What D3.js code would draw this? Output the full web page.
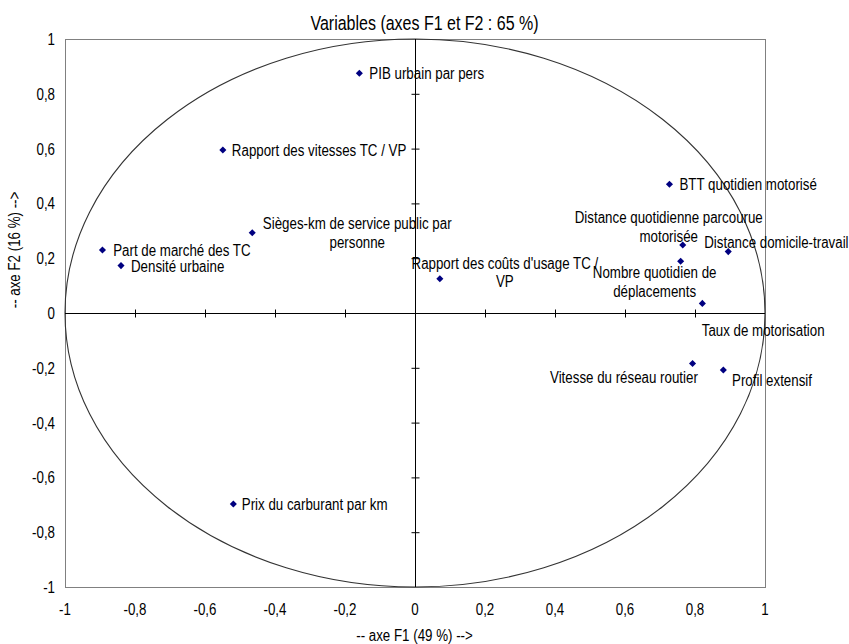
<!DOCTYPE html>
<html><head><meta charset="utf-8">
<script src="https://cdn.jsdelivr.net/npm/d3@7"></script>
<style>
body{margin:0;background:#fff}
text{font-family:"Liberation Sans",Arial,sans-serif;fill:#000}
</style>
</head><body>
<svg id="c" width="849" height="644"></svg>
<script>
// ---------- data ----------
const variableNames = [
  "PIB urbain par pers",
  "Rapport des vitesses TC / VP",
  "BTT quotidien motorisé",
  "Sièges-km de service public par\npersonne",
  "Part de marché des TC",
  "Densité urbaine",
  "Distance quotidienne parcourue\nmotorisée",
  "Distance domicile-travail",
  "Nombre quotidien de\ndéplacements",
  "Rapport des coûts d'usage TC /\nVP",
  "Taux de motorisation",
  "Vitesse du réseau routier",
  "Profil extensif",
  "Prix du carburant par km"
];
const f1Values = [-0.159, -0.549, 0.727, -0.465, -0.893, -0.840, 0.765, 0.895, 0.759, 0.071, 0.821, 0.793, 0.881, -0.519];
const f2Values = [ 0.875,  0.595, 0.470,  0.293,  0.230,  0.173, 0.248, 0.224, 0.189, 0.125, 0.035, -0.184, -0.208, -0.697];
const tickValues = [-1, -0.8, -0.6, -0.4, -0.2, 0, 0.2, 0.4, 0.6, 0.8, 1];
const chartTitle = "Variables (axes F1 et F2 : 65 %)";
const xAxisTitle = "-- axe F1 (49 %) -->";
const yAxisTitle = "-- axe F2 (16 %) -->";

// ---------- layout (label placement relative to each point, px) ----------
const labelLayout = [
  {anchor:"start",  dx:10,   dy:0},
  {anchor:"start",  dx:9,    dy:0},
  {anchor:"start",  dx:10,   dy:0},
  {anchor:"middle", dx:105,  dy:-9.7},
  {anchor:"start",  dx:10.7, dy:0},
  {anchor:"start",  dx:10,   dy:0},
  {anchor:"middle", dx:-14,  dy:-28},
  {anchor:"start",  dx:-24,  dy:-10},
  {anchor:"middle", dx:-26,  dy:11},
  {anchor:"middle", dx:65,   dy:-16},
  {anchor:"start",  dx:-0.6, dy:27},
  {anchor:"end",    dx:5.3,  dy:14},
  {anchor:"start",  dx:8.7,  dy:10},
  {anchor:"start",  dx:8.4,  dy:0}
];
const S = 1.28;          // glyph height stretch of the text
const lineGap = 18.6;
const fontSize = 13.33;

const svg = d3.select("#c");
const x = d3.scaleLinear().domain([-1, 1]).range([65, 765]);
const y = d3.scaleLinear().domain([-1, 1]).range([587, 39]);
const fmt = d => (Math.round(d * 10) / 10).toString().replace(".", ",");

function stretchedText(g, tx, ty, str, anchor, size, rot) {
  return g.append("text")
    .attr("transform", rot ? `translate(${tx},${ty}) rotate(-90) scale(1,${S})` : `translate(${tx},${ty}) scale(1,${S})`)
    .attr("text-anchor", anchor)
    .attr("dy", "0.35em")
    .style("font-size", size + "px")
    .text(str);
}

// plot border
svg.append("rect")
  .attr("x", x(-1) + 0.5).attr("y", y(1) + 0.5)
  .attr("width", x(1) - x(-1)).attr("height", y(-1) - y(1))
  .attr("fill", "none").attr("stroke", "#808080").attr("stroke-width", 1);

// correlation circle
svg.append("ellipse")
  .attr("cx", x(0)).attr("cy", y(0))
  .attr("rx", x(1) - x(0)).attr("ry", y(0) - y(1))
  .attr("fill", "none").attr("stroke", "#333").attr("stroke-width", 1.1);

// zero axes with crossing ticks
const innerTicks = tickValues.filter(v => v !== 0 && Math.abs(v) !== 1);
const axX1 = svg.append("g").attr("transform", `translate(0,${y(0) + 0.5})`)
  .call(d3.axisBottom(x).tickValues(innerTicks).tickSize(4).tickFormat(""));
const axX2 = svg.append("g").attr("transform", `translate(0,${y(0) + 0.5})`)
  .call(d3.axisTop(x).tickValues(innerTicks).tickSize(4).tickFormat(""));
const axY1 = svg.append("g").attr("transform", `translate(${x(0) + 0.5},0)`)
  .call(d3.axisLeft(y).tickValues(innerTicks).tickSize(4).tickFormat(""));
const axY2 = svg.append("g").attr("transform", `translate(${x(0) + 0.5},0)`)
  .call(d3.axisRight(y).tickValues(innerTicks).tickSize(4).tickFormat(""));
[axX1, axX2, axY1, axY2].forEach(a => a.selectAll("line").attr("stroke", "#000"));
axX1.select("path.domain").attr("stroke", "#000").attr("d", `M${x(-1)},0H${x(1)}`);
axX2.select("path.domain").remove();
axY1.select("path.domain").attr("stroke", "#000").attr("d", `M0,${y(1)}V${y(-1)}`);
axY2.select("path.domain").remove();

// tick labels
const xl = svg.append("g");
tickValues.forEach(v => stretchedText(xl, x(v), 609, fmt(v), "middle", fontSize));
const yl = svg.append("g");
tickValues.forEach(v => stretchedText(yl, 55, y(v), fmt(v), "end", fontSize));

// titles
stretchedText(svg, 424.5, 23, chartTitle, "middle", 16);
stretchedText(svg, 414.5, 635.5, xAxisTitle, "middle", fontSize);
stretchedText(svg, 14, 250, yAxisTitle, "middle", fontSize, true);

// points
const pts = variableNames.map((n, i) => ({name: n, f1: f1Values[i], f2: f2Values[i], lay: labelLayout[i]}));
svg.append("g").selectAll("path").data(pts).join("path")
  .attr("d", d3.symbol(d3.symbolSquare, 25))
  .attr("transform", d => `translate(${x(d.f1)},${y(d.f2)}) rotate(45)`)
  .attr("fill", "#000080");

// labels
const lg = svg.append("g");
pts.forEach(d => {
  d.name.split("\n").forEach((ln, k) => {
    stretchedText(lg, x(d.f1) + d.lay.dx, y(d.f2) + d.lay.dy + k * lineGap, ln, d.lay.anchor, fontSize);
  });
});
</script>
</body></html>
